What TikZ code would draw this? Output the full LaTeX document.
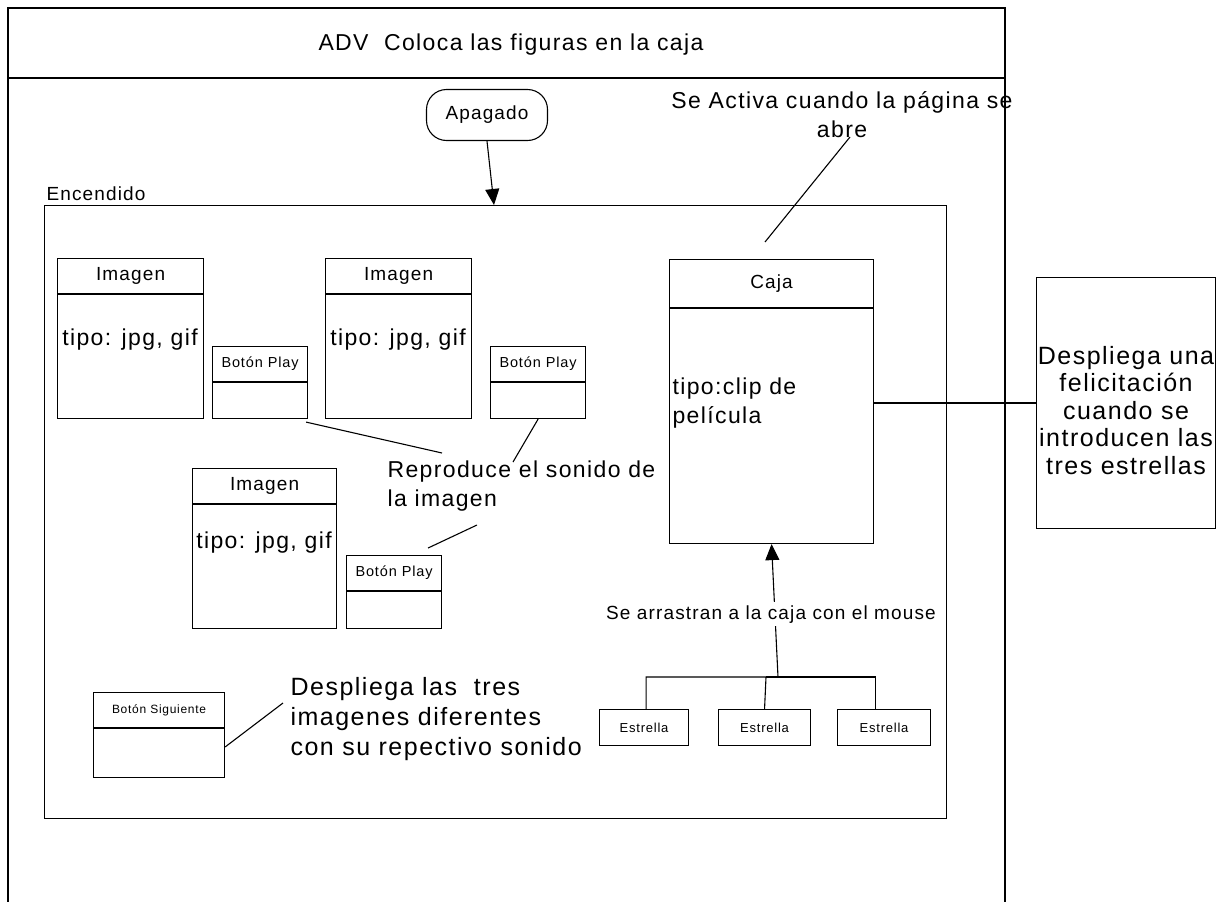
\documentclass[tikz,border=0pt]{standalone}
\usepackage{fontspec}
\setmainfont{Liberation Sans}[LetterSpace=6]
\usetikzlibrary{arrows.meta,positioning}

\tikzset{
  frame/.style={draw, line width=1.1pt, inner sep=0pt},
  head/.style={font=\fontsize{19}{23}\selectfont, inner sep=0pt},
  btnhead/.style={font=\fontsize{14.5}{17}\selectfont, inner sep=0pt},
  nexthead/.style={font=\fontsize{12}{15}\selectfont, inner sep=0pt},
  bigtext/.style={font=\fontsize{23}{29}\selectfont, inner sep=0pt},
  notetext/.style={font=\fontsize{25}{30}\selectfont, inner sep=0pt},
  starbox/.style={frame, minimum height=36, font=\fontsize{13}{16}\selectfont},
  push/.style={-{Triangle[length=16pt,width=14pt]}}
}

% name, x y, width, height, header height, title
\newcommand{\classbox}[7][head]{%
  \node[frame, anchor=north west, minimum width=#4, minimum height=#5] (#2) at (#3) {};
  \draw ([yshift=-#6]#2.north west) -- ([yshift=-#6]#2.north east);
  \node[#1] (#2-name) at ([yshift=-#6/2]#2.north) {#7};
}

\begin{document}
\begin{tikzpicture}[x=1pt, y=-1pt, line width=1.1pt]
\useasboundingbox (0,0) rectangle (1218,902);

\draw (8,902) -- (8,8) -- (1005,8) -- (1005,902);
\draw (8,78) -- (1005,78);
\node[bigtext, anchor=base] (title) at (511,50) {ADV\ \ Coloca las figuras en la caja};

\node[frame, rounded corners=20pt, minimum width=121, minimum height=51, head] (off) at (487,115) {Apagado};
\node[frame, anchor=north west, minimum width=902, minimum height=613] (on) at (44,205) {};
\node[head, anchor=base west] (on-name) at (46,200) {Encendido};
\draw[push] (off.south) -- ([xshift=7pt]off.south |- on.north);

\classbox{img1}{57,258}{146}{160}{36}{Imagen}
\classbox{img2}{325,258}{146}{160}{36}{Imagen}
\classbox{img3}{192,468}{144}{160}{36}{Imagen}
\node[bigtext, anchor=base] (img1-type) at (130,345) {tipo: jpg, gif};
\node[bigtext, anchor=base] (img2-type) at (398,345) {tipo: jpg, gif};
\node[bigtext, anchor=base] (img3-type) at (264,548) {tipo: jpg, gif};

\classbox[btnhead]{play1}{212,346}{95}{72}{36}{Botón Play}
\classbox[btnhead]{play2}{490,346}{95}{72}{36}{Botón Play}
\classbox[btnhead]{play3}{346,555}{95}{73}{36}{Botón Play}

\node[bigtext, anchor=base west, align=left] (sound) at (387,506) {Reproduce el sonido de\\la imagen};
\coordinate (sound-a) at (442,453);
\coordinate (sound-b) at (513,462);
\coordinate (sound-c) at (477,525);
\draw ([shift={(-2pt,-3pt)}]play1.south east) -- (sound-a);
\draw ([xshift=-48pt]play2.south east) -- (sound-b);
\draw ([shift={(-14pt,7pt)}]play3.north east) -- (sound-c);

\classbox{caja}{669,259}{204}{284}{49}{Caja}
\node[bigtext, anchor=base west, align=left] (caja-type) at (672,423) {tipo:clip de\\película};

\node[bigtext, anchor=base, align=center] (open) at (842,137) {Se Activa cuando la página se\\abre};
\coordinate (open-a) at (850,137);
\coordinate (open-b) at (765,242);
\draw (open-a) -- (open-b);

\node[frame, anchor=north west, minimum width=179, minimum height=251] (prize) at (1036,277) {};
\node[notetext, font=\fontsize{25}{27.5}\selectfont, anchor=base, align=center] (prize-text) at (1126,474) {Despliega una\\felicitación\\cuando se\\introducen las\\tres estrellas};
\draw (caja.east |- 0,403) -- (prize.west |- 0,403);

\node[starbox, anchor=north west, minimum width=89] (star1) at (599,709) {Estrella};
\node[starbox, anchor=north west, minimum width=92] (star2) at (718,709) {Estrella};
\node[starbox, anchor=north west, minimum width=93] (star3) at (837,709) {Estrella};
\coordinate (join) at (766,677);
\coordinate (stem) at (778,677);
\draw ([xshift=2pt]star1.north) |- (join) -- (star2.north);
\draw ([xshift=-9pt]star3.north) |- (join);
\draw[push] (stem) -- (caja.south);
\node[head, fill=white, inner sep=3pt, anchor=base] (drag) at (771,619) {Se arrastran a la caja con el mouse};

\classbox[nexthead]{next}{93,692}{131}{85}{36}{Botón Siguiente}
\node[notetext, anchor=base west, align=left] (next-text) at (290,755) {Despliega las\ \ tres\\imagenes diferentes\\con su repectivo sonido};
\coordinate (next-a) at (283,703);
\draw ([yshift=-55pt]next.north east) -- (next-a);

\end{tikzpicture}
\end{document}
